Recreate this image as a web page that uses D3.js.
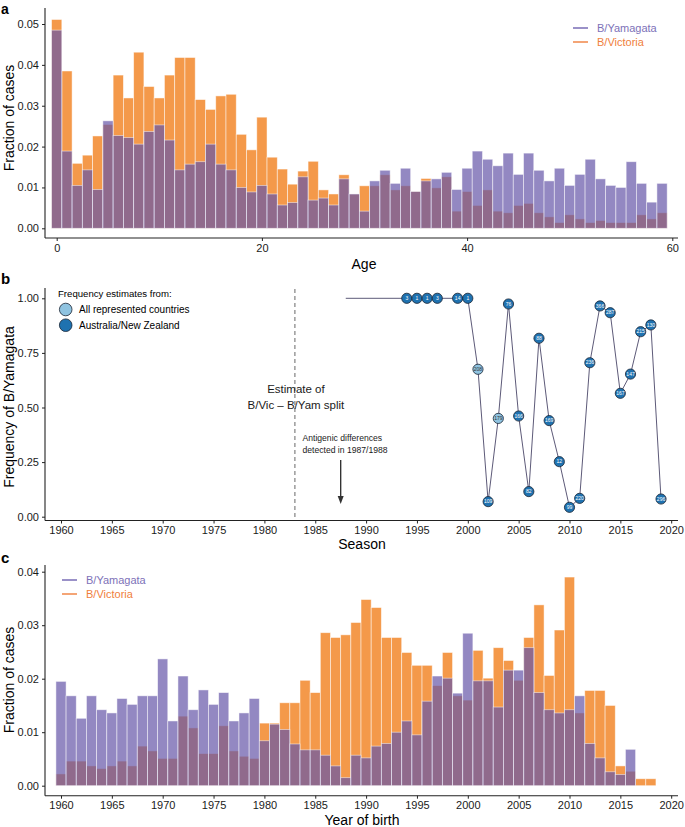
<!DOCTYPE html>
<html><head><meta charset="utf-8">
<script src="https://cdn.jsdelivr.net/npm/d3@7"></script>
<style>
body{margin:0;background:#fff;}
svg{font-family:"Liberation Sans",Arial,Helvetica,sans-serif;}
</style></head>
<body>
<svg id="chart" width="685" height="827"></svg>
<script>
// ---------- DATA ----------
const ages = [0,1,2,3,4,5,6,7,8,9,10,11,12,13,14,15,16,17,18,19,20,21,22,23,24,25,26,27,28,29,30,31,32,33,34,35,36,37,38,39,40,41,42,43,44,45,46,47,48,49,50,51,52,53,54,55,56,57,58,59];
const ageYamagata = [0.0485,0.0189,0.0105,0.0143,0.0095,0.0263,0.0227,0.0222,0.0206,0.0237,
  0.0253,0.0216,0.0143,0.0157,0.0163,0.0206,0.0157,0.0143,0.0100,0.0089,
  0.0105,0.0084,0.0057,0.0063,0.0126,0.0069,0.0074,0.0057,0.0121,0.0084,
  0.0042,0.0116,0.0142,0.0110,0.0147,0.0090,0.0116,0.0121,0.0137,0.0095,
  0.0147,0.0189,0.0169,0.0153,0.0184,0.0132,0.0184,0.0142,0.0116,0.0147,
  0.0105,0.0132,0.0169,0.0121,0.0105,0.0100,0.0163,0.0110,0.0064,0.0110];
const ageVictoria = [0.0511,0.0385,0.0159,0.0179,0.0226,0.0254,0.0375,0.0319,0.0431,0.0347,
  0.0319,0.0375,0.0418,0.0418,0.0315,0.0291,0.0324,0.0328,0.0230,0.0192,
  0.0272,0.0174,0.0145,0.0108,0.0140,0.0164,0.0094,0.0084,0.0131,0.0084,
  0.0104,0.0104,0.0131,0.0094,0.0104,0.0090,0.0122,0.0099,0.0126,0.0042,
  0.0090,0.0056,0.0094,0.0042,0.0038,0.0056,0.0061,0.0038,0.0028,0.0014,
  0.0033,0.0023,0.0014,0.0019,0.0014,0.0014,0.0014,0.0033,0.0023,0.0038];
const ageTicks = [0,20,40,60];
const ageYTicks = [0,0.01,0.02,0.03,0.04,0.05];

const seasons = [1994,1995,1996,1997,1999,2000,2001,2002,2003,2004,2005,2006,2007,2008,2009,2010,2011,2012,2013,2014,2015,2016,2017,2018,2019];
const freqYamagata = [1,1,1,1,1,1,0.675,0.069,0.450,0.974,0.461,0.115,0.817,0.440,0.252,0.043,0.084,0.705,0.965,0.934,0.565,0.653,0.847,0.878,0.081];
const seasonN = [3,1,1,3,14,1,208,109,179,76,166,82,88,169,12,99,220,236,366,287,167,147,215,130,296];
const seasonSource = ["AU","AU","AU","AU","AU","AU","All","AU","All","AU","AU","AU","AU","AU","AU","AU","AU","AU","AU","AU","AU","AU","AU","AU","AU"];
const lineStart = {season:1988, freq:1};
const splitYear = 1983;
const antigenicYear = 1987.5;
const freqTicks = [0,0.25,0.5,0.75,1];
const yearTicks = [1960,1965,1970,1975,1980,1985,1990,1995,2000,2005,2010,2015,2020];

const birthYears = [1960,1961,1962,1963,1964,1965,1966,1967,1968,1969,1970,1971,1972,1973,1974,1975,1976,1977,1978,1979,1980,1981,1982,1983,1984,1985,1986,1987,1988,1989,1990,1991,1992,1993,1994,1995,1996,1997,1998,1999,2000,2001,2002,2003,2004,2005,2006,2007,2008,2009,2010,2011,2012,2013,2014,2015,2016,2017,2018];
const birthYamagata = [0.0195,0.0168,0.0126,0.0168,0.0142,0.0136,0.0163,0.0152,0.0168,0.0168,
  0.0237,0.0121,0.0205,0.0142,0.0179,0.0152,0.0174,0.0121,0.0136,0.0163,
  0.0084,0.0115,0.0105,0.0078,0.0067,0.0067,0.0057,0.0037,0.0015,0.0057,
  0.0052,0.0074,0.0079,0.0100,0.0121,0.0095,0.0158,0.0205,0.0201,0.0173,
  0.0285,0.0196,0.0196,0.0147,0.0216,0.0216,0.0258,0.0174,0.0142,0.0136,
  0.0142,0.0168,0.0079,0.0052,0.0026,0.0021,0.0068,0,0];
const birthVictoria = [0.0022,0.0046,0.0046,0.0037,0.0032,0.0037,0.0046,0.0037,0.0074,0.0065,
  0.0051,0.0051,0.0130,0.0108,0.0060,0.0060,0.0112,0.0065,0.0055,0.0051,
  0.0117,0.0117,0.0155,0.0155,0.0197,0.0174,0.0286,0.0277,0.0282,0.0305,
  0.0348,0.0333,0.0277,0.0277,0.0249,0.0225,0.0225,0.0187,0.0249,0.0168,
  0.0160,0.0253,0.0201,0.0258,0.0234,0.0197,0.0277,0.0338,0.0206,0.0291,
  0.0390,0.0136,0.0178,0.0178,0.0150,0.0037,0.0027,0.0013,0.0013];
const birthYTicks = [0,0.01,0.02,0.03,0.04];

const lineageNames = ["B/Yamagata","B/Victoria"];

// ---------- STYLE ----------
const ORANGE = "#f4994a";
const PURPLE = "#6556a8";
const PURPLE_TXT = "#7d71b8";
const ORANGE_TXT = "#f0803c";
const DARKBLUE = "#1f72b0";
const LIGHTBLUE = "#8fc3e0";
const AXIS = "#222";

const svg = d3.select("#chart");

function styleAxis(g){
  g.selectAll(".domain").attr("stroke",AXIS).attr("stroke-width",1.1);
  g.selectAll(".tick line").attr("stroke",AXIS).attr("stroke-width",1);
  g.selectAll(".tick text").attr("fill","#1a1a1a").style("font-size","11px")
    .style("font-family","'Liberation Sans',Arial,sans-serif");
}

function drawBars(g, cats, yam, vic, x, y, bw){
  g.selectAll("rect.vic").data(cats).join("rect").attr("class","vic")
    .attr("x",(d)=>x(d)-bw/2).attr("width",bw)
    .attr("y",(d,i)=>y(vic[i])).attr("height",(d,i)=>y(0)-y(vic[i]))
    .attr("fill",ORANGE).attr("stroke","#ffffff").attr("stroke-opacity",0.6).attr("stroke-width",0.8);
  g.selectAll("rect.yam").data(cats).join("rect").attr("class","yam")
    .attr("x",(d)=>x(d)-bw/2).attr("width",bw)
    .attr("y",(d,i)=>y(yam[i])).attr("height",(d,i)=>y(0)-y(yam[i]))
    .attr("fill",PURPLE).attr("fill-opacity",0.7)
    .attr("stroke","#ffffff").attr("stroke-opacity",0.6).attr("stroke-width",0.8);
}

function legendLines(g, x0, y0){
  const cols=[PURPLE_TXT, ORANGE_TXT];
  lineageNames.forEach((n,i)=>{
    g.append("line").attr("x1",x0).attr("x2",x0+15).attr("y1",y0+i*14).attr("y2",y0+i*14)
      .attr("stroke",i===0?"#6f62b0":"#f07f3c").attr("stroke-width",1.4);
    g.append("text").attr("x",x0+24).attr("y",y0+i*14+4).text(n)
      .attr("fill",cols[i]).style("font-size","11px");
  });
}

// ---------- PANEL A ----------
{
  const x = d3.scaleLinear().domain([0,60]).range([56.7,672.3]);
  const y = d3.scaleLinear().domain([0,0.05]).range([228.3,24]);
  const g = svg.append("g");
  drawBars(g, ages, ageYamagata, ageVictoria, x, y, x(1)-x(0));
  const xa = g.append("g").attr("transform","translate(0,238)")
    .call(d3.axisBottom(x).tickValues(ageTicks).tickFormat(d3.format("d")).tickSize(3).tickSizeOuter(0));
  xa.select(".domain").attr("d","M45,0H678");
  styleAxis(xa);
  const ya = g.append("g").attr("transform","translate(45,0)")
    .call(d3.axisLeft(y).tickValues(ageYTicks).tickFormat(d3.format(".2f")).tickSize(3).tickSizeOuter(0));
  ya.select(".domain").attr("d","M0,8V238");
  styleAxis(ya);
  g.append("text").attr("x",364).attr("y",269).attr("text-anchor","middle").text("Age").style("font-size","14px");
  g.append("text").attr("transform","translate(14,118) rotate(-90)").attr("text-anchor","middle")
    .text("Fraction of cases").style("font-size","14px");
  g.append("text").attr("x",1).attr("y",13.5).text("a").style("font-size","14px").style("font-weight","bold");
  legendLines(g, 573, 28);
}

// ---------- PANEL B ----------
{
  const x = d3.scaleLinear().domain([1960,2020]).range([61,671.2]);
  const y = d3.scaleLinear().domain([0,1]).range([516.7,298.3]);
  const g = svg.append("g");
  g.append("line").attr("x1",x(splitYear)).attr("x2",x(splitYear)).attr("y1",289).attr("y2",520)
    .attr("stroke","#555").attr("stroke-width",0.9).attr("stroke-dasharray","4,3");
  g.append("text").attr("x",x(splitYear)+1).attr("y",393).attr("text-anchor","middle")
    .text("Estimate of").style("font-size","11.5px").attr("fill","#1a1a1a");
  g.append("text").attr("x",x(splitYear)+1).attr("y",409).attr("text-anchor","middle")
    .text("B/Vic – B/Yam split").style("font-size","11.5px").attr("fill","#1a1a1a");
  g.append("text").attr("x",302.5).attr("y",441).text("Antigenic differences")
    .style("font-size","8.6px").attr("fill","#1a1a1a");
  g.append("text").attr("x",302.5).attr("y",452.5).text("detected in 1987/1988")
    .style("font-size","8.6px").attr("fill","#1a1a1a");
  const ax = x(antigenicYear);
  g.append("line").attr("x1",ax).attr("x2",ax).attr("y1",460).attr("y2",498)
    .attr("stroke","#333").attr("stroke-width",1.4);
  g.append("path").attr("d",`M${ax-3},${496}L${ax+3},${496}L${ax},${504}Z`).attr("fill","#333");

  const pts = seasons.map((s,i)=>({season:s, freq:freqYamagata[i], n:seasonN[i], src:seasonSource[i]}));
  const lineData = [lineStart].concat(pts);
  g.append("path").datum(lineData)
    .attr("d", d3.line().x(d=>x(d.season)).y(d=>y(d.freq)))
    .attr("fill","none").attr("stroke","#5d5a78").attr("stroke-width",1);
  const pg = g.selectAll("g.pt").data(pts).join("g").attr("class","pt")
    .attr("transform",d=>`translate(${x(d.season)},${y(d.freq)})`);
  pg.append("circle").attr("r",5.1).attr("fill",d=>d.src==="All"?LIGHTBLUE:DARKBLUE)
    .attr("stroke","#1b2533").attr("stroke-width",0.8);
  pg.append("text").attr("text-anchor","middle").attr("y",1.7).text(d=>d.n)
    .attr("fill",d=>d.src==="All"?"#333":"#fff").style("font-size","5px");

  const xa = g.append("g").attr("transform","translate(0,520.5)")
    .call(d3.axisBottom(x).tickValues(yearTicks).tickFormat(d3.format("d")).tickSize(3).tickSizeOuter(0));
  xa.select(".domain").attr("d","M45,0H678");
  styleAxis(xa);
  const ya = g.append("g").attr("transform","translate(45,0)")
    .call(d3.axisLeft(y).tickValues(freqTicks).tickFormat(d3.format(".2f")).tickSize(3).tickSizeOuter(0));
  ya.select(".domain").attr("d","M0,288V520.5");
  styleAxis(ya);
  g.append("text").attr("x",362).attr("y",549).attr("text-anchor","middle").text("Season").style("font-size","14px");
  g.append("text").attr("transform","translate(14,407) rotate(-90)").attr("text-anchor","middle")
    .text("Frequency of B/Yamagata").style("font-size","14px");
  g.append("text").attr("x",1).attr("y",284).text("b").style("font-size","15px").style("font-weight","bold");
  g.append("text").attr("x",58).attr("y",297).text("Frequency estimates from:").style("font-size","9.6px");
  const leg = [["All represented countries",LIGHTBLUE],["Australia/New Zealand",DARKBLUE]];
  leg.forEach((l,i)=>{
    g.append("circle").attr("cx",65.7).attr("cy",309.5+i*15.7).attr("r",6.3)
      .attr("fill",l[1]).attr("stroke","#1b2533").attr("stroke-width",0.8);
    g.append("text").attr("x",79).attr("y",313+i*15.7).text(l[0]).style("font-size","10px");
  });
}

// ---------- PANEL C ----------
{
  const x = d3.scaleLinear().domain([1960,2020]).range([61,671.2]);
  const y = d3.scaleLinear().domain([0,0.04]).range([785.7,571.7]);
  const g = svg.append("g");
  drawBars(g, birthYears, birthYamagata, birthVictoria, x, y, x(1961)-x(1960));
  const xa = g.append("g").attr("transform","translate(0,795.7)")
    .call(d3.axisBottom(x).tickValues(yearTicks).tickFormat(d3.format("d")).tickSize(3).tickSizeOuter(0));
  xa.select(".domain").attr("d","M45,0H678");
  styleAxis(xa);
  const ya = g.append("g").attr("transform","translate(45,0)")
    .call(d3.axisLeft(y).tickValues(birthYTicks).tickFormat(d3.format(".2f")).tickSize(3).tickSizeOuter(0));
  ya.select(".domain").attr("d","M0,565V795.7");
  styleAxis(ya);
  g.append("text").attr("x",362).attr("y",825).attr("text-anchor","middle").text("Year of birth").style("font-size","14px");
  g.append("text").attr("transform","translate(14,680) rotate(-90)").attr("text-anchor","middle")
    .text("Fraction of cases").style("font-size","14px");
  g.append("text").attr("x",1).attr("y",563).text("c").style("font-size","15px").style("font-weight","bold");
  legendLines(g, 62, 580);
}
</script>
</body></html>
